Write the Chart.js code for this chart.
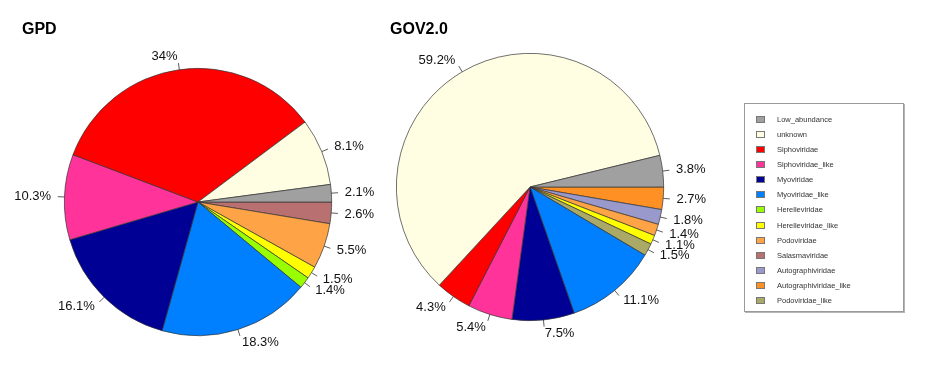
<!DOCTYPE html>
<html>
<head>
<meta charset="utf-8">
<script src="https://cdn.jsdelivr.net/npm/chart.js@4/dist/chart.umd.min.js"></script>
<style>
  body { margin: 0; background: #fff; font-family: "Liberation Sans", Arial, sans-serif; }
  #wrap { position: relative; width: 940px; height: 372px; overflow: hidden; }
  canvas { position: absolute; left: 0; top: 0; }
  .title { position: absolute; font-weight: bold; font-size: 16px; color: #000; }
  #legend { position: absolute; left: 744px; top: 103px; width: 160px; height: 209px;
            border: 1px solid #9a9a9a; box-shadow: 1px 1px 0 #b5b5b5; box-sizing: border-box; }
  .item { position: absolute; left: 11px; height: 10px; font-size: 7.5px; color: #333; line-height: 10px; }
  .item span { position: absolute; left: 0; top: 1px; width: 9px; height: 7px; border: 1px solid #777; box-sizing: border-box; }
  .item b { position: absolute; left: 21px; top: 0; font-weight: normal; white-space: nowrap; }
</style>
</head>
<body>
<div id="wrap">
  <canvas id="gpd" width="940" height="372"></canvas>
  <canvas id="gov" width="940" height="372"></canvas>
  <div class="title" style="left:22px;top:20px;">GPD</div>
  <div class="title" style="left:390px;top:20px;">GOV2.0</div>
  <div id="legend"></div>
</div>
<script>
// legend (all families)
const legendNames = ['Low_abundance', 'unknown', 'Siphoviridae', 'Siphoviridae_like', 'Myoviridae',
  'Myoviridae_like', 'Herelleviridae', 'Herelleviridae_like', 'Podoviridae', 'Salasmaviridae',
  'Autographiviridae', 'Autographiviridae_like', 'Podoviridae_like'];
const legendColors = ['#A0A0A0', '#FFFDE2', '#FF0000', '#FF3399', '#000094',
  '#0080FF', '#99FF00', '#FFFF00', '#FFA347', '#B87070',
  '#9999CC', '#FF9124', '#AAAA66'];

// slices, counter-clockwise from 3 o'clock (as in the original R plot)
const gpdLabels = ['Low_abundance', 'unknown', 'Siphoviridae', 'Siphoviridae_like', 'Myoviridae',
  'Myoviridae_like', 'Herelleviridae', 'Herelleviridae_like', 'Podoviridae', 'Salasmaviridae'];
const gpdValues = [2.1, 8.1, 34, 10.3, 16.1, 18.3, 1.4, 1.5, 5.5, 2.6];

const govLabels = ['Low_abundance', 'unknown', 'Siphoviridae', 'Siphoviridae_like', 'Myoviridae',
  'Myoviridae_like', 'Podoviridae_like', 'Herelleviridae_like', 'Podoviridae', 'Autographiviridae',
  'Autographiviridae_like'];
const govValues = [3.8, 59.2, 4.3, 5.4, 7.5, 11.1, 1.5, 1.1, 1.4, 1.8, 2.7];

function colorOf(name) {
  return legendColors[legendNames.indexOf(name)];
}

// percent labels with short leader lines, like R's pie()
const pieLabels = {
  id: 'pieLabels',
  afterDatasetsDraw(chart) {
    const ctx = chart.ctx;
    const meta = chart.getDatasetMeta(0);
    const data = chart.data.datasets[0].data;
    ctx.save();
    ctx.strokeStyle = '#333';
    ctx.lineWidth = 0.8;
    ctx.fillStyle = '#111';
    ctx.font = '13px "Liberation Sans", Arial, sans-serif';
    ctx.textBaseline = 'middle';
    meta.data.forEach(function (arc, i) {
      const p = arc.getProps(['x', 'y', 'startAngle', 'endAngle', 'outerRadius'], true);
      const mid = (p.startAngle + p.endAngle) / 2;
      const c = Math.cos(mid), s = Math.sin(mid), r = p.outerRadius;
      ctx.beginPath();
      ctx.moveTo(p.x + c * r, p.y + s * r);
      ctx.lineTo(p.x + c * r * 1.05, p.y + s * r * 1.05);
      ctx.stroke();
      ctx.textAlign = c < 0 ? 'right' : 'left';
      ctx.fillText(data[i] + '%', p.x + c * r * 1.1, p.y + s * r * 1.1);
    });
    ctx.restore();
  }
};

function makePie(id, labels, values, padding) {
  // Chart.js runs clockwise, so reverse the order and start at 3 o'clock
  const lab = labels.slice().reverse();
  const val = values.slice().reverse();
  return new Chart(document.getElementById(id), {
    type: 'pie',
    data: {
      labels: lab,
      datasets: [{
        data: val,
        backgroundColor: lab.map(colorOf),
        borderColor: '#333',
        borderWidth: 0.7
      }]
    },
    options: {
      responsive: false,
      animation: false,
      rotation: 90,
      layout: { padding: padding },
      plugins: { legend: { display: false }, tooltip: { enabled: false } }
    },
    plugins: [pieLabels]
  });
}

makePie('gpd', gpdLabels, gpdValues, { left: 64, right: 608, top: 68, bottom: 36 });
makePie('gov', govLabels, govValues, { left: 396, right: 276, top: 53, bottom: 51 });

// legend box
const legend = document.getElementById('legend');
legendNames.forEach(function (name, i) {
  const row = document.createElement('div');
  row.className = 'item';
  row.style.top = (11 + i * 15.08) + 'px';
  row.innerHTML = '<span style="background:' + legendColors[i] + '"></span><b>' + name + '</b>';
  legend.appendChild(row);
});
</script>
</body>
</html>
